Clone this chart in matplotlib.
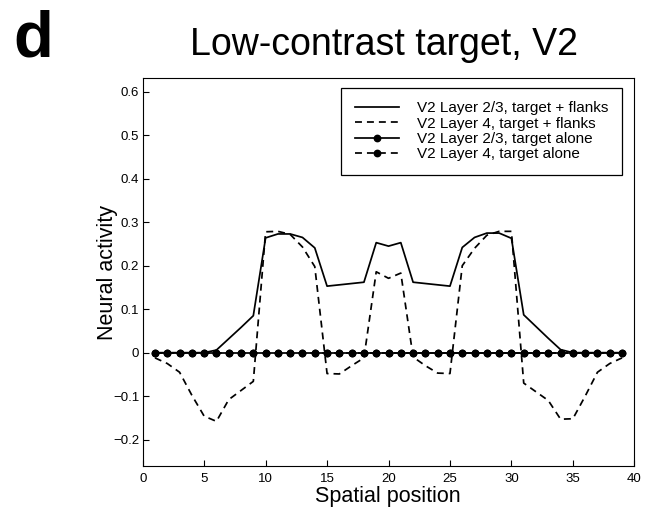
import matplotlib
matplotlib.use("Agg")
import matplotlib.pyplot as plt
from matplotlib.ticker import FuncFormatter

# --- dados ---
posicao = list(range(1, 40))

l23_flancos = [0, 0, 0, 0, 0, 0.006, 0.032, 0.058, 0.085, 0.264,
               0.273, 0.273, 0.265, 0.241, 0.153, 0.156, 0.159, 0.162, 0.253, 0.245,
               0.253, 0.162, 0.159, 0.156, 0.153, 0.242, 0.265, 0.275, 0.275, 0.263,
               0.087, 0.060, 0.033, 0.007, 0, 0, 0, 0, 0]

l4_flancos = [-0.012, -0.025, -0.045, -0.098, -0.146, -0.158, -0.108, -0.087, -0.066, 0.278,
              0.279, 0.272, 0.243, 0.198, -0.048, -0.049, -0.030, -0.012, 0.186, 0.171,
              0.183, -0.010, -0.030, -0.047, -0.048, 0.200, 0.240, 0.270, 0.279, 0.279,
              -0.070, -0.090, -0.110, -0.153, -0.152, -0.100, -0.045, -0.025, -0.012]

l23_sozinho = [0] * 39
l4_sozinho = [0] * 39

rotulos = ["V2 Layer 2/3, target + flanks",
           "V2 Layer 4, target + flanks",
           "V2 Layer 2/3, target alone",
           "V2 Layer 4, target alone"]

plt.rcParams['font.family'] = ['Liberation Sans', 'DejaVu Sans']
plt.rcParams['lines.scale_dashes'] = False

fig = plt.figure(figsize=(6.57, 5.12), dpi=100)
ax = fig.add_axes([0.2172, 0.0904, 0.7483, 0.7567])

tracejado = (0, (5, 3.6))
lw = 1.25
ax.plot(posicao, l23_flancos, color='black', lw=lw, label=rotulos[0])
ax.plot(posicao, l4_flancos, color='black', lw=lw, linestyle=tracejado, label=rotulos[1])
ax.plot(posicao, l23_sozinho, color='black', lw=lw, marker='o', markersize=4.6, label=rotulos[2])
ax.plot(posicao, l4_sozinho, color='black', lw=lw, linestyle=tracejado, marker='o',
        markersize=4.6, label=rotulos[3])

ax.set_xlim(0, 40)
ax.set_ylim(-0.26, 0.631)
ax.set_xticks(range(0, 41, 5))
ax.set_yticks([-0.2, -0.1, 0, 0.1, 0.2, 0.3, 0.4, 0.5, 0.6])
ax.yaxis.set_major_formatter(FuncFormatter(lambda v, p: f"{round(v, 2):g}".replace('-', '\u2212')))
ax.tick_params(axis='both', direction='in', length=4, width=0.8, labelsize=9.5, color='black')
ax.tick_params(axis='x', pad=5)
ax.tick_params(axis='y', pad=2.5)
for s in ax.spines.values():
    s.set_linewidth(0.8)
    s.set_color('black')

leg = ax.legend(loc='upper right', bbox_to_anchor=(0.9756, 0.9757), borderaxespad=0,
                fontsize=11, handlelength=2.9, handletextpad=1.2, labelspacing=0.08,
                borderpad=0.9, fancybox=False, framealpha=1, edgecolor='black')
leg.get_frame().set_linewidth(0.9)

# textos da figura
fig.text(0.0205, 0.8887, "d", fontsize=47, fontweight='bold', ha='left', va='baseline')
fig.text(0.5845, 0.8926, "Low-contrast target, V2", fontsize=27, ha='center', va='baseline')
fig.text(388 / 657, 1 - 502 / 512, "Spatial position", fontsize=15.5, ha='center', va='baseline')
fig.text(113 / 657, 1 - 272 / 512, "Neural activity", fontsize=15.5, rotation=90,
         rotation_mode='anchor', ha='center', va='baseline')

plt.savefig("out.png", dpi=100)
plt.close()
